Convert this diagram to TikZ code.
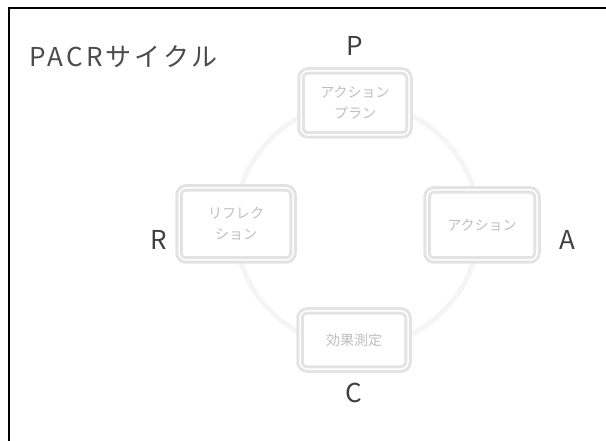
\documentclass[tikz,border=0pt]{standalone}
\usepackage{fontspec}
\setmainfont{Noto Sans CJK JP}
\begin{document}
\begin{tikzpicture}[x=1pt,y=-1pt,
  stagebox/.style={draw=gray!22, line width=3pt, rounded corners=7pt, fill=white,
    double=white, double distance=1.5pt, text=gray!50, font=\fontsize{14}{21}\selectfont,
    align=center, minimum width=108pt, minimum height=64pt, inner sep=2pt},
  letter/.style={font=\fontsize{26}{28}\selectfont, text=black!75},
  ringline/.style={draw=gray!8, line width=5pt}]
\useasboundingbox (0,0) rectangle (606,441);
\draw[line width=1.5pt] (9,460) -- (9,8) -- (620,8);
\node[anchor=west, font=\fontsize{26}{28}\selectfont\addfontfeature{LetterSpace=12}, text=black!70] (title) at (26,57) {PACRサイクル};
\coordinate (ctr) at (357,225);
\draw[ringline] (ctr) circle[radius=122];
\node[stagebox] (p) at (355,103) {アクション\\プラン};
\node[stagebox, minimum width=114pt, minimum height=72pt] (r) at (236,224) {リフレク\\ション};
\node[stagebox, minimum width=110pt, minimum height=70pt] (a) at (482,225) {アクション};
\node[stagebox, minimum height=58pt] (c) at (354,340) {効果測定};
\node[letter] (lp) at (355,46) {P};
\node[letter] (lr) at (159,240) {R};
\node[letter] (la) at (567,240) {A};
\node[letter] (lc) at (354,393) {C};
\end{tikzpicture}
\end{document}
